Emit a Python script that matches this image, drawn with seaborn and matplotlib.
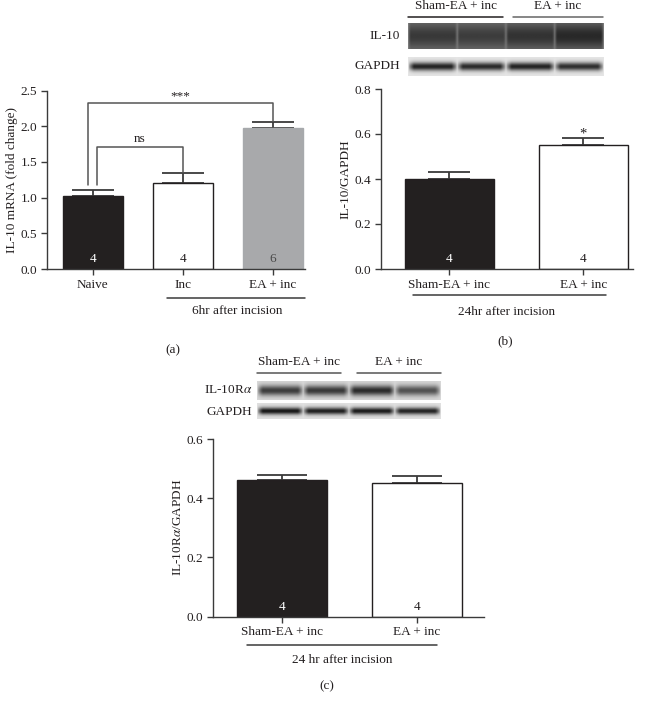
import numpy as np
import matplotlib
matplotlib.use("Agg")
import matplotlib.pyplot as plt
import matplotlib.transforms as mtransforms
from matplotlib.lines import Line2D
import seaborn as sns

# (a) IL-10 mRNA, 6 hr after incision
a_groups = ["Naive", "Inc", "EA + inc"]
a_means = [1.02, 1.21, 1.97]
a_sem = [0.09, 0.13, 0.09]
a_n = [4, 4, 6]
# significance brackets: (x left, x right, top, left foot, right foot, label)
a_brackets = [(-0.05, 2.0, 2.32, 1.17, 2.07, "***"),
              (0.05, 1.0, 1.71, 1.17, 1.35, "ns")]

# (b) IL-10 / GAPDH, 24 hr
b_groups = ["Sham-EA + inc", "EA + inc"]
b_means = [0.40, 0.55]
b_sem = [0.033, 0.032]
b_n = [4, 4]
b_star = "*"

# (c) IL-10Ra / GAPDH, 24 hr
c_groups = ["Sham-EA + inc", "EA + inc"]
c_means = [0.46, 0.45]
c_sem = [0.019, 0.024]
c_n = [4, 4]

# western blot band darkness per lane
b_il10_lanes = [0.55, 0.52, 0.60, 0.68]
b_gapdh_lanes = [0.85, 0.82, 0.85, 0.80]
c_il10ra_lanes = [0.72, 0.74, 0.80, 0.62]
c_gapdh_lanes = [0.90, 0.86, 0.88, 0.84]

W, H = 652, 704
INK = "#231f20"
LINE = "#3a3a3a"
FS = 9.5

sns.set_style("ticks")
plt.rcParams["font.family"] = ["Liberation Serif", "DejaVu Serif"]
plt.rcParams["mathtext.fontset"] = "stix"
plt.rcParams["text.color"] = INK
plt.rcParams["axes.labelcolor"] = INK
plt.rcParams["xtick.color"] = LINE
plt.rcParams["ytick.color"] = LINE
plt.rcParams["xtick.labelcolor"] = INK
plt.rcParams["ytick.labelcolor"] = INK

fig = plt.figure(figsize=(W / 100, H / 100), dpi=100)


def box(x0, y0, x1, y1):
    # pixel box (top-left origin) -> figure fraction rect
    return [x0 / W, 1 - y1 / H, (x1 - x0) / W, (y1 - y0) / H]


def fline(x0, x1, y, color=LINE):
    fig.add_artist(Line2D([x0 / W, x1 / W], [1 - y / H, 1 - y / H],
                          transform=fig.transFigure, color=color, lw=1.1))


def ftext(x, y, s, **kw):
    fig.text(x / W, 1 - y / H, s, ha=kw.pop("ha", "center"), va="center",
             fontsize=kw.pop("fontsize", FS), **kw)


def bar_panel(ax, groups, means, sem, ns, colors, ylim, step, ylabel, xlim, capsize):
    df = {"group": groups, "value": means}
    sns.barplot(x=df["group"], y=df["value"], hue=df["group"], order=groups,
                hue_order=groups, palette=colors, legend=False, width=0.667,
                errorbar=None, ax=ax, zorder=2)
    for p, c in zip(ax.patches, colors):
        p.set_edgecolor(INK if c != "#a7a9ac" else c)
        p.set_linewidth(1.0)
    x = np.arange(len(groups))
    ax.errorbar(x, means, yerr=[np.zeros(len(x)), sem], fmt="none", ecolor=LINE,
                elinewidth=1.3, capsize=capsize, capthick=1.3, zorder=1)
    trans = mtransforms.blended_transform_factory(ax.transData, ax.transAxes)
    for xi, n, c in zip(x, ns, colors):
        tc = "white" if c == INK else ("#4a4a4a" if c == "#a7a9ac" else INK)
        ax.text(xi, 0.055, str(n), transform=trans, ha="center", va="center",
                fontsize=FS, color=tc)
    ax.set_ylim(*ylim)
    ax.set_xlim(*xlim)
    ax.set_yticks(np.arange(ylim[0], ylim[1] + 1e-9, step))
    ax.yaxis.set_major_formatter(matplotlib.ticker.FormatStrFormatter("%.1f"))
    ax.set_xlabel("")
    ax.set_ylabel(ylabel, fontsize=FS, labelpad=2)
    ax.tick_params(labelsize=FS, length=4, width=1.0, pad=3)
    for s in ["top", "right"]:
        ax.spines[s].set_visible(False)
    for s in ["left", "bottom"]:
        ax.spines[s].set_color(LINE)
        ax.spines[s].set_linewidth(1.0)


def blot(rect, lanes, background, sigma, gap=0.12):
    ax = fig.add_axes(rect)
    rows, cols = 40, 240
    yy = np.linspace(-1, 1, rows)[:, None]
    xx = np.linspace(0, len(lanes) - 1e-6, cols)
    idx = xx.astype(int)
    frac = xx - idx
    shape = np.clip(np.sin(np.pi * frac) / np.sin(np.pi * gap), 0, 1) ** 0.6
    dark = np.array(lanes)[idx] * shape
    band = np.exp(-(yy / sigma) ** 2)
    img = 1 - (background + (1 - background) * dark[None, :] * band)
    ax.imshow(img, cmap="gray", vmin=0, vmax=1, aspect="auto",
              interpolation="bilinear")
    ax.set_axis_off()


# ---- (a)
ax_a = fig.add_axes(box(47, 90.5, 305, 269))
bar_panel(ax_a, a_groups, a_means, a_sem, a_n, [INK, "white", "#a7a9ac"],
          (0, 2.5), 0.5, "IL-10 mRNA (fold change)", (-0.51, 2.36), 15)
for x1, x2, top, f1, f2, lab in a_brackets:
    ax_a.plot([x1, x1, x2, x2], [f1, top, top, f2], color="#555555", lw=1.1,
              clip_on=False, zorder=3)
    ax_a.text((x1 + x2) / 2, top + 0.02, lab, ha="center", va="bottom",
              fontsize=FS)
fline(167, 305, 298)
ftext(237, 311, "6hr after incision")
ftext(173, 350, "(a)")

# ---- (b)
ax_b = fig.add_axes(box(381, 89, 633, 269))
bar_panel(ax_b, b_groups, b_means, b_sem, b_n, [INK, "white"],
          (0, 0.8), 0.2, "IL-10/GAPDH", (-0.51, 1.37), 15)
ax_b.text(1, b_means[1] + b_sem[1] - 0.012, b_star, ha="center", va="bottom",
          fontsize=FS + 1)
fline(413, 606, 295)
ftext(507, 312, "24hr after incision")
ftext(505, 341, "(b)")
blot(box(408, 23, 604, 49), b_il10_lanes, 0.5, 1.1, gap=0.05)
blot(box(408, 57, 604, 76), b_gapdh_lanes, 0.1, 0.45)
fline(408, 503, 17, INK)
fline(513, 603, 17, "#666666")
ftext(456, 6, "Sham-EA + inc")
ftext(558, 6, "EA + inc")
ftext(400, 36, "IL-10", ha="right")
ftext(400, 66, "GAPDH", ha="right")

# ---- (c)
ax_c = fig.add_axes(box(213, 439, 484, 616.5))
bar_panel(ax_c, c_groups, c_means, c_sem, c_n, [INK, "white"],
          (0, 0.6), 0.2, r"IL-10R$\alpha$/GAPDH", (-0.513, 1.5), 18)
fline(247, 437, 645)
ftext(342, 660, "24 hr after incision")
ftext(327, 686, "(c)")
blot(box(257, 381, 441, 400), c_il10ra_lanes, 0.15, 0.55)
blot(box(257, 403, 441, 419), c_gapdh_lanes, 0.12, 0.45)
fline(257, 341, 373, "#555555")
fline(357, 441, 373, "#555555")
ftext(299, 362, "Sham-EA + inc")
ftext(399, 362, "EA + inc")
ftext(252, 390, r"IL-10R$\alpha$", ha="right")
ftext(252, 412, "GAPDH", ha="right")

fig.savefig("out.png", dpi=100)
